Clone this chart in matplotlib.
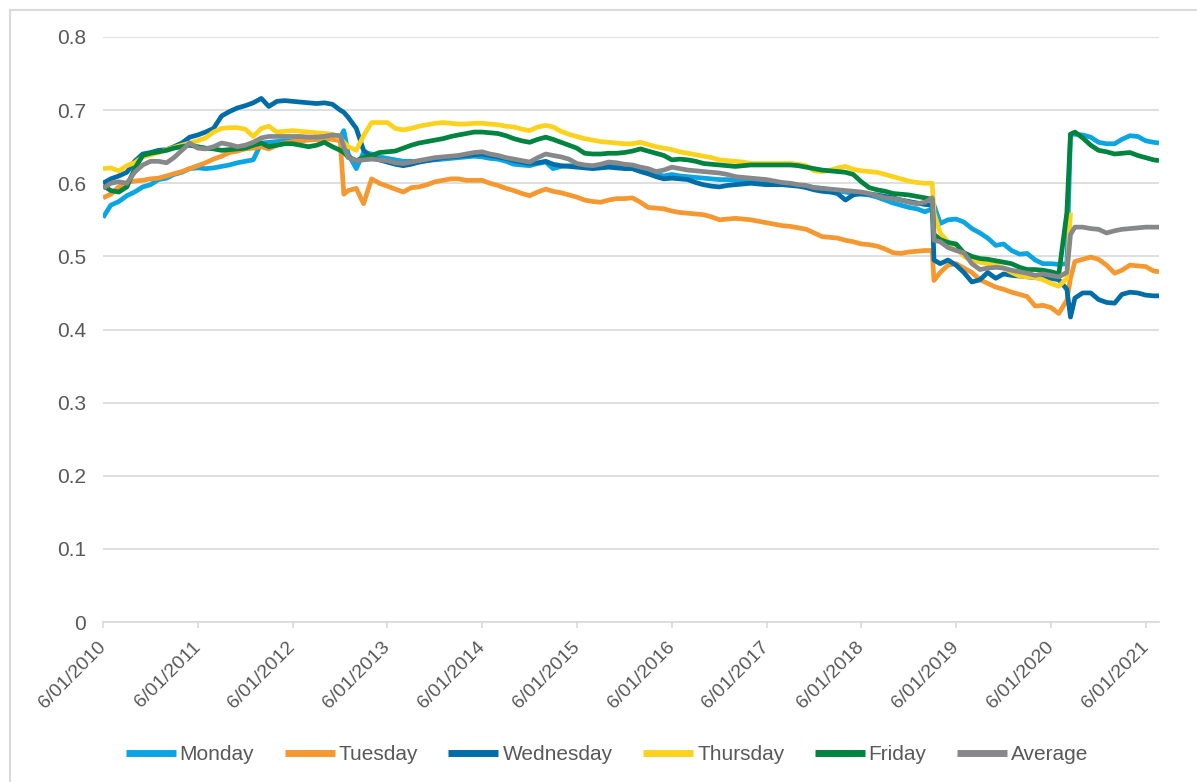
import numpy as np
import pandas as pd
import matplotlib
matplotlib.use("Agg")
import matplotlib.pyplot as plt
from matplotlib.patches import Rectangle

plt.rcParams['font.family'] = ['Liberation Sans', 'DejaVu Sans']

nan = np.nan

# monthly readings, June 2010 .. July 2021 (134 months)
month_dates = pd.date_range("2010-06-01", periods=134, freq="MS")
# extra points at the sharp moves and at the very end of the data
extra_dates = pd.to_datetime(["2012-12-15", "2019-03-08", "2020-08-15", "2021-07-22"])

monday = [
    0.553, 0.570, 0.575, 0.583, 0.588, 0.595, 0.598, 0.605, 0.607, 0.612, 0.615, 0.620,
    0.621, 0.620, 0.621, 0.623, 0.625, 0.628, 0.630, 0.632, 0.655, 0.656, 0.657, 0.658,
    0.658, 0.659, 0.660, 0.660, 0.661, 0.662, 0.662, 0.640, 0.620, 0.642, 0.640, 0.636,
    0.634, 0.632, 0.630, 0.630, 0.629, 0.631, 0.632, 0.633, 0.634, 0.635, 0.636, 0.637,
    0.636, 0.634, 0.633, 0.630, 0.626, 0.625, 0.624, 0.627, 0.629, 0.620, 0.623, 0.624,
    0.624, 0.623, 0.622, 0.623, 0.624, 0.623, 0.622, 0.620, 0.617, 0.615, 0.612, 0.610,
    0.612, 0.610, 0.609, 0.608, 0.607, 0.606, 0.605, 0.605, 0.604, 0.603, 0.602, 0.601,
    0.600, 0.600, 0.599, 0.598, 0.597, 0.596, 0.594, 0.593, 0.591, 0.590, 0.588, 0.586,
    0.585, 0.584, 0.581, 0.577, 0.573, 0.570, 0.567, 0.565, 0.561, 0.565, 0.545, 0.550,
    0.551, 0.547, 0.538, 0.532, 0.525, 0.515, 0.517, 0.508, 0.503, 0.504, 0.495, 0.490,
    0.490, 0.489, 0.490, 0.667, 0.666, 0.663, 0.656, 0.654, 0.654, 0.660, 0.665, 0.664,
    0.658, 0.656]
monday_extra = [0.672, 0.570, 0.667, 0.655]

tuesday = [
    0.580, 0.585, 0.595, 0.601, 0.603, 0.604, 0.606, 0.607, 0.610, 0.613, 0.616, 0.620,
    0.624, 0.628, 0.633, 0.637, 0.642, 0.644, 0.647, 0.648, 0.650, 0.647, 0.652, 0.655,
    0.657, 0.658, 0.659, 0.660, 0.661, 0.660, 0.658, 0.590, 0.593, 0.572, 0.606, 0.600,
    0.596, 0.592, 0.588, 0.594, 0.595, 0.598, 0.602, 0.604, 0.606, 0.606, 0.604, 0.604,
    0.604, 0.600, 0.597, 0.593, 0.590, 0.586, 0.583, 0.588, 0.592, 0.589, 0.587, 0.584,
    0.581, 0.577, 0.575, 0.574, 0.577, 0.579, 0.579, 0.580, 0.574, 0.567, 0.566, 0.565,
    0.562, 0.560, 0.559, 0.558, 0.557, 0.554, 0.550, 0.551, 0.552, 0.551, 0.550, 0.548,
    0.546, 0.544, 0.542, 0.541, 0.539, 0.537, 0.532, 0.527, 0.526, 0.525, 0.522, 0.520,
    0.517, 0.516, 0.514, 0.510, 0.505, 0.504, 0.506, 0.507, 0.508, 0.508, 0.478, 0.488,
    0.490, 0.484, 0.478, 0.468, 0.463, 0.458, 0.455, 0.451, 0.448, 0.445, 0.432, 0.433,
    0.430, 0.422, 0.440, 0.493, 0.496, 0.499, 0.496, 0.488, 0.477, 0.481, 0.488, 0.487,
    0.486, 0.480]
tuesday_extra = [0.585, 0.467, 0.470, 0.479]

wednesday = [
    0.600, 0.606, 0.610, 0.615, 0.630, 0.640, 0.642, 0.645, 0.646, 0.650, 0.655, 0.663,
    0.666, 0.670, 0.675, 0.692, 0.698, 0.703, 0.706, 0.710, 0.716, 0.705, 0.712, 0.713,
    0.712, 0.711, 0.710, 0.709, 0.710, 0.708, 0.700, 0.690, 0.675, 0.645, 0.636, 0.632,
    0.629, 0.626, 0.624, 0.626, 0.629, 0.631, 0.633, 0.635, 0.636, 0.637, 0.638, 0.639,
    0.640, 0.638, 0.636, 0.634, 0.631, 0.629, 0.627, 0.628, 0.630, 0.626, 0.624, 0.623,
    0.622, 0.621, 0.620, 0.621, 0.622, 0.621, 0.620, 0.620, 0.616, 0.613, 0.609, 0.606,
    0.607, 0.606, 0.605, 0.601, 0.598, 0.596, 0.595, 0.597, 0.598, 0.599, 0.600, 0.599,
    0.598, 0.598, 0.598, 0.597, 0.596, 0.594, 0.591, 0.589, 0.588, 0.586, 0.577, 0.584,
    0.586, 0.585, 0.584, 0.582, 0.580, 0.577, 0.575, 0.573, 0.571, 0.570, 0.490, 0.495,
    0.488, 0.478, 0.465, 0.468, 0.478, 0.470, 0.476, 0.474, 0.473, 0.472, 0.471, 0.470,
    0.470, 0.468, 0.455, 0.443, 0.450, 0.450, 0.441, 0.437, 0.436, 0.448, 0.451, 0.450,
    0.447, 0.446]
wednesday_extra = [0.697, 0.495, 0.417, 0.446]

thursday = [
    0.620, 0.621, 0.617, 0.624, 0.628, 0.636, 0.639, 0.642, 0.646, 0.649, 0.652, 0.655,
    0.658, 0.662, 0.670, 0.675, 0.676, 0.676, 0.674, 0.664, 0.675, 0.678, 0.670, 0.671,
    0.672, 0.671, 0.670, 0.669, 0.668, 0.667, 0.662, 0.650, 0.645, 0.665, 0.683, 0.683,
    0.683, 0.675, 0.673, 0.675, 0.678, 0.680, 0.682, 0.683, 0.682, 0.681, 0.681, 0.682,
    0.682, 0.681, 0.680, 0.678, 0.677, 0.674, 0.672, 0.677, 0.679, 0.677, 0.671, 0.667,
    0.664, 0.661, 0.659, 0.657, 0.656, 0.655, 0.654, 0.654, 0.656, 0.653, 0.650, 0.648,
    0.646, 0.643, 0.641, 0.639, 0.637, 0.635, 0.632, 0.631, 0.630, 0.629, 0.627, 0.627,
    0.627, 0.627, 0.627, 0.627, 0.626, 0.624, 0.617, 0.616, 0.618, 0.621, 0.623, 0.619,
    0.617, 0.616, 0.615, 0.612, 0.609, 0.606, 0.603, 0.601, 0.600, 0.600, 0.532, 0.520,
    0.512, 0.500, 0.495, 0.492, 0.490, 0.488, 0.484, 0.478, 0.473, 0.472, 0.471, 0.468,
    0.463, 0.459, 0.470, nan, nan, nan, nan, nan, nan, nan, nan, nan,
    nan, nan]
thursday_extra = [0.656, 0.560, 0.560, nan]

friday = [
    0.597, 0.590, 0.588, 0.595, 0.620, 0.638, 0.641, 0.643, 0.645, 0.648, 0.650, 0.652,
    0.650, 0.648, 0.647, 0.645, 0.646, 0.647, 0.648, 0.652, 0.655, 0.650, 0.652, 0.654,
    0.654, 0.652, 0.650, 0.652, 0.656, 0.650, 0.645, 0.636, 0.631, 0.635, 0.638, 0.642,
    0.643, 0.644, 0.648, 0.652, 0.655, 0.657, 0.659, 0.661, 0.664, 0.666, 0.668, 0.670,
    0.670, 0.669, 0.668, 0.665, 0.661, 0.658, 0.656, 0.660, 0.663, 0.660, 0.656, 0.652,
    0.648, 0.641, 0.640, 0.640, 0.641, 0.641, 0.642, 0.644, 0.647, 0.644, 0.641, 0.638,
    0.632, 0.633, 0.632, 0.630, 0.627, 0.626, 0.625, 0.624, 0.623, 0.624, 0.625, 0.625,
    0.625, 0.625, 0.625, 0.625, 0.624, 0.622, 0.620, 0.618, 0.617, 0.616, 0.615, 0.612,
    0.602, 0.594, 0.591, 0.589, 0.586, 0.585, 0.584, 0.582, 0.580, 0.578, 0.523, 0.519,
    0.517, 0.505, 0.500, 0.497, 0.496, 0.494, 0.492, 0.490, 0.485, 0.482, 0.482, 0.481,
    0.479, 0.476, 0.560, 0.670, 0.662, 0.652, 0.645, 0.643, 0.640, 0.641, 0.642, 0.638,
    0.635, 0.632]
friday_extra = [0.642, 0.530, 0.667, 0.631]

average = [
    0.593, 0.600, 0.602, 0.600, 0.615, 0.625, 0.630, 0.630, 0.628, 0.635, 0.645, 0.655,
    0.648, 0.647, 0.650, 0.655, 0.653, 0.650, 0.652, 0.656, 0.662, 0.664, 0.664, 0.664,
    0.664, 0.664, 0.663, 0.663, 0.664, 0.666, 0.665, 0.635, 0.631, 0.632, 0.633, 0.632,
    0.631, 0.628, 0.627, 0.629, 0.631, 0.633, 0.635, 0.636, 0.637, 0.638, 0.640, 0.642,
    0.643, 0.640, 0.638, 0.635, 0.633, 0.631, 0.629, 0.635, 0.640, 0.638, 0.636, 0.633,
    0.627, 0.625, 0.624, 0.626, 0.629, 0.628, 0.626, 0.625, 0.622, 0.620, 0.616, 0.618,
    0.622, 0.620, 0.618, 0.617, 0.616, 0.615, 0.614, 0.612, 0.609, 0.608, 0.607, 0.606,
    0.605, 0.603, 0.601, 0.600, 0.598, 0.597, 0.594, 0.593, 0.592, 0.591, 0.590, 0.589,
    0.588, 0.586, 0.583, 0.580, 0.579, 0.577, 0.574, 0.572, 0.574, 0.580, 0.520, 0.512,
    0.508, 0.505, 0.490, 0.482, 0.484, 0.485, 0.484, 0.481, 0.479, 0.477, 0.474, 0.476,
    0.474, 0.472, 0.478, 0.540, 0.540, 0.538, 0.537, 0.532, 0.535, 0.537, 0.538, 0.539,
    0.540, 0.540]
average_extra = [0.650, 0.522, 0.530, 0.540]

series_names = ["Monday", "Tuesday", "Wednesday", "Thursday", "Friday", "Average"]
series_data = [(monday, monday_extra), (tuesday, tuesday_extra), (wednesday, wednesday_extra),
               (thursday, thursday_extra), (friday, friday_extra), (average, average_extra)]
series_colors = ["#0AA5E2", "#F4982F", "#006DA8", "#FCD21C", "#00843F", "#87888A"]

tick_years = list(range(2010, 2022))

TEXT_GREY = "#595959"
GRID_GREY = "#d9d9d9"


def build_series(monthly, extra):
    s = pd.Series(list(monthly) + list(extra),
                  index=list(month_dates) + list(extra_dates))
    return s.sort_index()


fig = plt.figure(figsize=(11.97, 7.82), dpi=100)

# chart area border (only the left and top edges fall inside the picture)
fig.patches.append(Rectangle((10 / 1197, -0.1), 1.2, 1.1 - 10 / 782,
                             transform=fig.transFigure, fill=False,
                             edgecolor=GRID_GREY, linewidth=1.5))

ax = fig.add_axes([103 / 1197, 1 - 622 / 782, (1159 - 103) / 1197, (622 - 37) / 782])

for name, (monthly, extra), color in zip(series_names, series_data, series_colors):
    s = build_series(monthly, extra)
    ax.plot(s.index, s.values, color=color, linewidth=3.4, label=name,
            solid_joinstyle="round", solid_capstyle="butt")

ax.set_xlim(month_dates[0], extra_dates[-1])
ax.set_ylim(0, 0.8)

yticks = np.arange(0, 0.81, 0.1)
ax.set_yticks(yticks)
ax.set_yticklabels([f"{v:g}" for v in np.round(yticks, 1)])

tick_dates = [pd.Timestamp(year=y, month=6, day=1) for y in tick_years]
ax.set_xticks(tick_dates)
ax.set_xticklabels([f"{d.month}/{d.day:02d}/{d.year}" for d in tick_dates],
                   rotation=45, ha="right", va="center", rotation_mode="anchor")

ax.yaxis.grid(True, color=GRID_GREY, linewidth=1.2)
ax.set_axisbelow(True)
for side in ["top", "right", "left"]:
    ax.spines[side].set_visible(False)
ax.spines["bottom"].set_color(GRID_GREY)
ax.spines["bottom"].set_linewidth(1.2)

ax.tick_params(axis="y", length=0, pad=12, labelsize=15, labelcolor=TEXT_GREY)
ax.tick_params(axis="x", length=4, width=1.2, color=GRID_GREY, pad=12,
               labelsize=14, labelcolor=TEXT_GREY)

leg = fig.legend(loc="center", bbox_to_anchor=(607 / 1197, 1 - 755 / 782), ncol=6,
                 frameon=False, fontsize=15, handlelength=2.4, handletextpad=0.2,
                 columnspacing=1.45)
for t in leg.get_texts():
    t.set_color(TEXT_GREY)
for h in leg.get_lines():
    h.set_linewidth(5)

plt.savefig("out.png", dpi=100)
